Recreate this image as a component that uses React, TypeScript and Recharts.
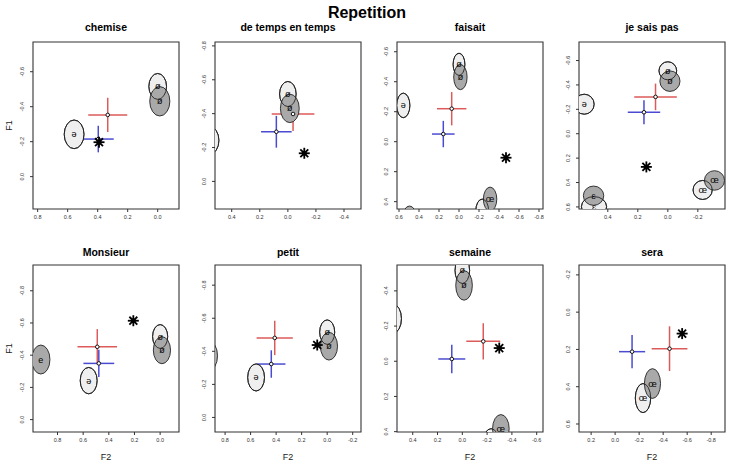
import React from "react";
import {
  ErrorBar,
  ReferenceArea,
  Scatter,
  ScatterChart,
  XAxis,
  YAxis,
} from "recharts";

const FONT = "'Liberation Sans', Arial, Helvetica, sans-serif";
const RED = "#dd5a5a";
const BLUE = "#4b4bd2";

const WORDS = [
  "chemise",
  "de temps en temps",
  "faisait",
  "je sais pas",
  "Monsieur",
  "petit",
  "semaine",
  "sera",
];

// F2 runs right-to-left, F1 top-to-bottom (values are [min, max])
const F2_RANGES: [number, number][] = [
  [-0.142, 0.831],
  [-0.521, 0.519],
  [-0.84, 0.62],
  [-0.381, 0.592],
  [-0.147, 0.991],
  [-0.265, 0.879],
  [-0.651, 0.527],
  [-0.915, 0.301],
];
const F1_RANGES: [number, number][] = [
  [-0.77, 0.185],
  [-0.823, 0.163],
  [-0.665, 0.449],
  [-0.752, 0.617],
  [-0.96, 0.077],
  [-0.922, 0.088],
  [-0.547, 0.402],
  [-0.253, 0.643],
];

const F2_TICKS = [
  [0.8, 0.6, 0.4, 0.2, 0],
  [0.4, 0.2, 0, -0.2, -0.4],
  [0.6, 0.4, 0.2, 0, -0.2, -0.4, -0.6, -0.8],
  [0.4, 0.2, 0, -0.2],
  [0.8, 0.6, 0.4, 0.2, 0],
  [0.8, 0.6, 0.4, 0.2, 0, -0.2],
  [0.4, 0.2, 0, -0.2, -0.4, -0.6],
  [0.2, 0, -0.2, -0.4, -0.6, -0.8],
];
const F1_TICKS = [
  [-0.6, -0.4, -0.2, 0],
  [-0.8, -0.6, -0.4, -0.2, 0],
  [-0.6, -0.4, -0.2, 0, 0.2, 0.4],
  [-0.6, -0.4, -0.2, 0, 0.2, 0.4, 0.6],
  [-0.8, -0.6, -0.4, -0.2, 0],
  [-0.8, -0.6, -0.4, -0.2, 0],
  [-0.4, -0.2, 0, 0.2, 0.4],
  [-0.2, 0, 0.2, 0.4, 0.6],
];

// reference vowel ellipses (centre and half-axes, F2/F1 units)
const VOWELS_LIGHT = [
  { v: "ə", x: 0.557, y: -0.242, rx: 0.066, ry: 0.082 },
  { v: "ø", x: 0.0, y: -0.516, rx: 0.059, ry: 0.074 },
  { v: "ɛ", x: 0.492, y: 0.598, rx: 0.084, ry: 0.083 },
  { v: "œ", x: -0.232, y: 0.461, rx: 0.064, ry: 0.078 },
];
const VOWELS_DARK = [
  { v: "ø", x: -0.014, y: -0.431, rx: 0.067, ry: 0.084 },
  { v: "e", x: 0.93, y: -0.373, rx: 0.071, ry: 0.09 },
  { v: "ɛ", x: 0.495, y: 0.508, rx: 0.068, ry: 0.079 },
  { v: "œ", x: -0.311, y: 0.383, rx: 0.067, ry: 0.08 },
];

// group means with spread (sx on F2, sy on F1)
const RED_MEANS = [
  { x: 0.333, y: -0.353, sx: 0.13, sy: 0.098 },
  { x: -0.037, y: -0.398, sx: 0.152, sy: 0.1 },
  { x: 0.073, y: -0.22, sx: 0.147, sy: 0.111 },
  { x: 0.082, y: -0.302, sx: 0.142, sy: 0.109 },
  { x: 0.49, y: -0.452, sx: 0.154, sy: 0.11 },
  { x: 0.411, y: -0.481, sx: 0.142, sy: 0.104 },
  { x: -0.169, y: -0.113, sx: 0.137, sy: 0.103 },
  { x: -0.453, y: 0.196, sx: 0.149, sy: 0.12 },
];
const BLUE_MEANS = [
  { x: 0.396, y: -0.215, sx: 0.103, sy: 0.076 },
  { x: 0.082, y: -0.293, sx: 0.109, sy: 0.094 },
  { x: 0.157, y: -0.051, sx: 0.113, sy: 0.088 },
  { x: 0.159, y: -0.176, sx: 0.108, sy: 0.098 },
  { x: 0.478, y: -0.349, sx: 0.12, sy: 0.085 },
  { x: 0.438, y: -0.323, sx: 0.111, sy: 0.083 },
  { x: 0.085, y: -0.013, sx: 0.109, sy: 0.081 },
  { x: -0.141, y: 0.212, sx: 0.109, sy: 0.089 },
];
const TARGETS = [
  { x: 0.391, y: -0.197 },
  { x: -0.117, y: -0.166 },
  { x: -0.47, y: 0.107 },
  { x: 0.143, y: 0.272 },
  { x: 0.209, y: -0.614 },
  { x: 0.078, y: -0.438 },
  { x: -0.298, y: -0.075 },
  { x: -0.558, y: 0.115 },
];

const COL_LEFT = [33, 215, 397, 579];
const ROW_TOP = [42, 265];
const BOX_W = 146;
const BOX_H = 167;
const PAD_L = 30;
const PAD_T = 30;

const fmt = (v: number) => v.toFixed(1);

const YTick = (props: any) => {
  const { x, y, payload } = props;
  return (
    <text
      x={x}
      y={y}
      transform={`rotate(-90 ${x} ${y})`}
      textAnchor="middle"
      fontSize={5.5}
      fontFamily={FONT}
      fill="#333"
    >
      {fmt(payload.value)}
    </text>
  );
};

const centreDot = (p: any) => (
  <circle cx={p.cx} cy={p.cy} r={1.8} fill="#fff" stroke="#111" strokeWidth={1} />
);

const asterisk = (p: any) => {
  const s = 5.5;
  const d = s * 0.72;
  return (
    <g stroke="#000" strokeWidth={1.8} strokeLinecap="butt">
      <line x1={p.cx - s} y1={p.cy} x2={p.cx + s} y2={p.cy} />
      <line x1={p.cx} y1={p.cy - s} x2={p.cx} y2={p.cy + s} />
      <line x1={p.cx - d} y1={p.cy - d} x2={p.cx + d} y2={p.cy + d} />
      <line x1={p.cx - d} y1={p.cy + d} x2={p.cx + d} y2={p.cy - d} />
      <circle cx={p.cx} cy={p.cy} r={1.6} fill="#000" />
    </g>
  );
};

function Panel({ i }: { i: number }) {
  const col = i % 4;
  const row = Math.floor(i / 4);
  const [x0, x1] = F2_RANGES[i];
  const [y0, y1] = F1_RANGES[i];
  const kx = BOX_W / (x1 - x0);
  const ky = BOX_H / (y1 - y0);

  // only vowels whose centre lies in this panel get a symbol
  const labelled = [...VOWELS_LIGHT, ...VOWELS_DARK].filter(
    (d) => d.x >= x0 && d.x <= x1 && d.y >= y0 && d.y <= y1
  );

  const ellipse = (fill: string) => (p: any) => (
    <ellipse
      cx={p.cx}
      cy={p.cy}
      rx={p.payload.rx * kx}
      ry={p.payload.ry * ky}
      fill={fill}
      stroke="#222"
      strokeWidth={0.9}
    />
  );
  const vowelLabel = (p: any) => (
    <text
      x={p.cx}
      y={p.cy}
      textAnchor="middle"
      dominantBaseline="central"
      fontSize={9}
      fontFamily={FONT}
      fill="#000"
    >
      {p.payload.v}
    </text>
  );

  return (
    <div
      style={{
        position: "absolute",
        left: COL_LEFT[col] - PAD_L,
        top: ROW_TOP[row] - PAD_T,
      }}
    >
      <ScatterChart
        width={BOX_W + PAD_L + 10}
        height={BOX_H + PAD_T + 20}
        margin={{ top: PAD_T, right: 10, bottom: 0, left: 0 }}
      >
        <XAxis
          type="number"
          dataKey="x"
          scale="linear"
          domain={[x0, x1]}
          ticks={F2_TICKS[i]}
          reversed
          allowDataOverflow
          interval={0}
          height={20}
          tickSize={3}
          tickMargin={3}
          axisLine={false}
          tickLine={{ stroke: "#333" }}
          tick={{ fontSize: 5.5, fill: "#333", fontFamily: FONT }}
          tickFormatter={fmt}
        />
        <YAxis
          type="number"
          dataKey="y"
          scale="linear"
          domain={[y0, y1]}
          ticks={F1_TICKS[i]}
          reversed
          allowDataOverflow
          interval={0}
          width={PAD_L}
          tickSize={3}
          tickMargin={5.5}
          axisLine={false}
          tickLine={{ stroke: "#333" }}
          tick={<YTick />}
        />
        <Scatter data={VOWELS_LIGHT} shape={ellipse("#efefef")} isAnimationActive={false} />
        <Scatter data={VOWELS_DARK} shape={ellipse("#a9a9a9")} isAnimationActive={false} />
        <Scatter data={VOWELS_LIGHT} shape={ellipse("none")} isAnimationActive={false} />
        <Scatter data={labelled} shape={vowelLabel} isAnimationActive={false} />
        <Scatter data={[RED_MEANS[i]]} shape={centreDot} isAnimationActive={false}>
          <ErrorBar dataKey="sx" direction="x" width={0} stroke={RED} strokeWidth={1.5} />
          <ErrorBar dataKey="sy" direction="y" width={0} stroke={RED} strokeWidth={1.5} />
        </Scatter>
        <Scatter data={[BLUE_MEANS[i]]} shape={centreDot} isAnimationActive={false}>
          <ErrorBar dataKey="sx" direction="x" width={0} stroke={BLUE} strokeWidth={1.5} />
          <ErrorBar dataKey="sy" direction="y" width={0} stroke={BLUE} strokeWidth={1.5} />
        </Scatter>
        <Scatter data={[TARGETS[i]]} shape={asterisk} isAnimationActive={false} />
        <ReferenceArea
          x1={x0}
          x2={x1}
          y1={y0}
          y2={y1}
          fill="none"
          stroke="#333"
          strokeWidth={1.1}
          ifOverflow="visible"
        />
      </ScatterChart>
    </div>
  );
}

export default function App() {
  return (
    <div
      style={{
        position: "absolute",
        left: 0,
        top: 0,
        width: 729,
        height: 465,
        background: "#fff",
        overflow: "hidden",
      }}
    >
      <svg
        width={729}
        height={465}
        style={{ position: "absolute", left: 0, top: 0 }}
        fontFamily={FONT}
      >
        <text x={367} y={18} textAnchor="middle" fontSize={16} fontWeight="bold">
          Repetition
        </text>
        {WORDS.map((w, i) => (
          <text
            key={w}
            x={COL_LEFT[i % 4] + BOX_W / 2}
            y={i < 4 ? 31 : 256}
            textAnchor="middle"
            fontSize={10.5}
            fontWeight="bold"
          >
            {w}
          </text>
        ))}
        {ROW_TOP.map((t) => (
          <text
            key={t}
            x={12}
            y={t + BOX_H / 2}
            transform={`rotate(-90 12 ${t + BOX_H / 2})`}
            textAnchor="middle"
            fontSize={9}
            fill="#222"
          >
            F1
          </text>
        ))}
        {COL_LEFT.slice(0).map((l) => (
          <text
            key={l}
            x={l + BOX_W / 2}
            y={460}
            textAnchor="middle"
            fontSize={9}
            fill="#222"
          >
            F2
          </text>
        ))}
      </svg>
      {WORDS.map((w, i) => (
        <Panel key={w} i={i} />
      ))}
    </div>
  );
}
